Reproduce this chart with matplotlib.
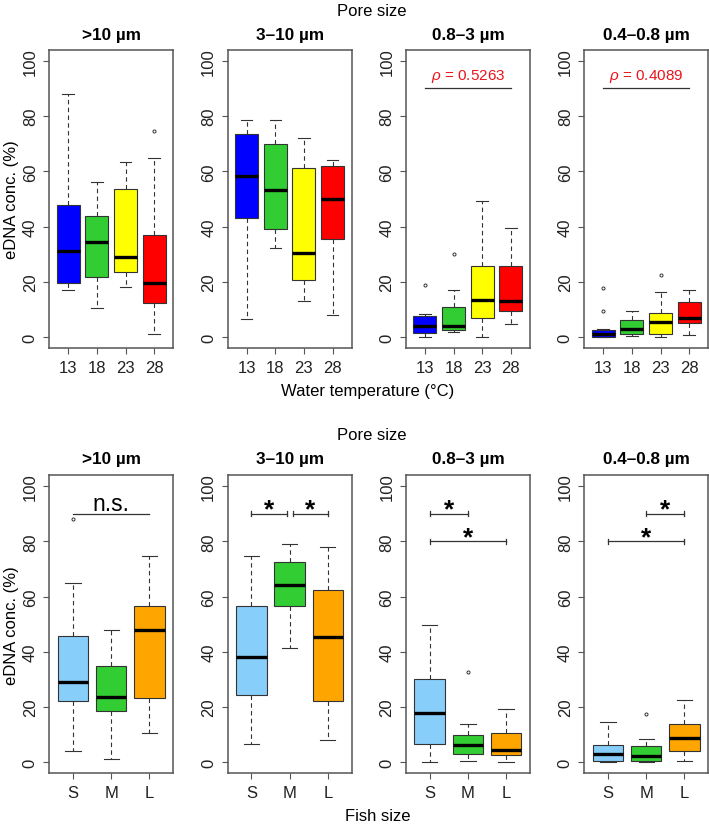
import numpy as np
import matplotlib.pyplot as plt

plt.rcParams['font.family'] = ['Liberation Sans', 'DejaVu Sans']
plt.rcParams['mathtext.fontset'] = 'custom'
plt.rcParams['mathtext.it'] = 'Liberation Sans:italic'
plt.rcParams['mathtext.rm'] = 'Liberation Sans'

pore_sizes = [">10 µm", "3–10 µm", "0.8–3 µm", "0.4–0.8 µm"]

# top row: water temperature
temps = ["13", "18", "23", "28"]
temp_colors = ["#0000FF", "#32CD32", "#FFFF00", "#FF0000"]
# each box: whislo, q1, med, q3, whishi
temp_boxes = [
    [[17.1, 19.6, 31.1, 47.8, 88.0], [10.6, 21.9, 34.6, 43.9, 56.0],
     [18.3, 23.5, 29.1, 53.6, 63.5], [1.3, 12.4, 19.5, 37.0, 64.7]],
    [[6.6, 43.2, 58.2, 73.6, 78.7], [32.3, 39.2, 53.1, 69.8, 78.7],
     [13.2, 20.7, 30.5, 61.2, 72.1], [8.2, 35.4, 50.1, 61.9, 64.1]],
    [[0.0, 1.6, 4.2, 7.6, 8.4], [1.9, 2.6, 4.0, 10.8, 17.1],
     [0.0, 6.9, 13.6, 25.7, 49.4], [4.8, 9.4, 13.0, 25.9, 39.4]],
    [[0.0, 0.0, 1.2, 2.7, 2.9], [0.4, 1.2, 3.0, 6.4, 9.5],
     [0.0, 1.1, 5.6, 8.8, 16.3], [0.8, 5.1, 7.1, 12.9, 17.1]],
]
temp_fliers = [
    [[], [], [], [74.5]],
    [[], [], [], []],
    [[18.9], [30.1], [], []],
    [[17.7, 9.6], [], [22.6], []],
]
rho_labels = [None, None, "0.5263", "0.4089"]

# bottom row: fish size
fish = ["S", "M", "L"]
fish_colors = ["#87CEFA", "#32CD32", "#FFA500"]
fish_boxes = [
    [[4.1, 22.2, 29.1, 45.6, 64.9], [1.2, 18.5, 23.7, 34.9, 48.0],
     [10.5, 23.3, 47.8, 56.6, 74.5]],
    [[6.5, 24.5, 38.1, 56.6, 74.7], [41.4, 56.4, 64.0, 72.4, 78.9],
     [8.0, 22.0, 45.5, 62.4, 77.9]],
    [[0.0, 6.5, 18.0, 30.3, 49.6], [0.3, 2.9, 6.2, 10.0, 13.9],
     [0.0, 2.7, 4.6, 10.5, 19.3]],
    [[0.0, 0.6, 2.9, 6.3, 14.5], [0.0, 0.5, 2.2, 5.8, 8.3],
     [0.3, 4.1, 8.8, 13.9, 22.6]],
]
fish_fliers = [
    [[88.2], [], []],
    [[], [], []],
    [[], [32.5], []],
    [[], [17.3], []],
]
# significance brackets: (from, to, height, label)
fish_sig = [
    [(1, 3, 90, "n.s.")],
    [(1, 1.92, 90, "*"), (2.08, 3, 90, "*")],
    [(1, 2, 90, "*"), (1, 3, 80, "*")],
    [(2, 3, 90, "*"), (1, 3, 80, "*")],
]

W, H = 709, 828
fig = plt.figure(figsize=(W / 100, H / 100), dpi=100)

lefts = [49.3, 227.7, 406.0, 584.3]
pw = 123.8
frame = "#555555"


def make_stats(boxes, fliers):
    out = []
    for b, f in zip(boxes, fliers):
        out.append(dict(whislo=b[0], q1=b[1], med=b[2], q3=b[3], whishi=b[4], fliers=f))
    return out


def draw_panel(ax, stats, colors, labels):
    n = len(stats)
    pos = np.arange(1, n + 1)
    res = ax.bxp(stats, positions=pos, widths=0.8, patch_artist=True,
                 boxprops=dict(edgecolor="#333333", linewidth=0.8),
                 whiskerprops=dict(color="#333333", linewidth=0.8, linestyle=(0, (4, 3))),
                 capprops=dict(color="#333333", linewidth=0.8),
                 medianprops=dict(color="black", linewidth=2.4),
                 flierprops=dict(marker="o", markersize=2.2, markerfacecolor="none",
                                 markeredgecolor="#333333", markeredgewidth=0.7))
    for patch, c in zip(res["boxes"], colors):
        patch.set_facecolor(c)
    ext = 0.04 * n
    ax.set_xlim(0.5 - ext, n + 0.5 + ext)
    ax.set_ylim(-4, 104)
    ax.set_xticks(pos)
    ax.set_xticklabels(labels)
    ax.set_yticks([0, 20, 40, 60, 80, 100])
    ax.set_yticklabels(["0", "20", "40", "60", "80", "100"], rotation=90, va="center")
    for s in ax.spines.values():
        s.set_color(frame)
        s.set_linewidth(1.1)
    ax.tick_params(axis="both", colors=frame, labelcolor="#222222", labelsize=12,
                   length=4.3, width=0.8)
    ax.tick_params(axis="x", pad=4.3)
    ax.tick_params(axis="y", pad=4.0)


rows = [(50.7, 349.3), (476.0, 774.3)]

# top row
for i in range(4):
    top, bot = rows[0]
    ax = fig.add_axes([lefts[i] / W, 1 - bot / H, pw / W, (bot - top) / H])
    draw_panel(ax, make_stats(temp_boxes[i], temp_fliers[i]), temp_colors, temps)
    ax.text(0.5, 1 + 15.7 / (bot - top), pore_sizes[i], transform=ax.transAxes,
            ha="center", va="center", fontsize=12.3, fontweight="bold")
    if i == 0:
        ax.set_ylabel("eDNA conc. (%)", fontsize=12, labelpad=3)
    if rho_labels[i] is not None:
        ax.plot([1, 4], [90, 90], color="#333333", linewidth=0.9)
        ax.text(2.5, 94.5, r"$\rho$ = " + rho_labels[i], color="#E8141C",
                ha="center", va="center", fontsize=11)

# bottom row
for i in range(4):
    top, bot = rows[1]
    ax = fig.add_axes([lefts[i] / W, 1 - bot / H, pw / W, (bot - top) / H])
    draw_panel(ax, make_stats(fish_boxes[i], fish_fliers[i]), fish_colors, fish)
    ax.text(0.5, 1 + 16.0 / (bot - top), pore_sizes[i], transform=ax.transAxes,
            ha="center", va="center", fontsize=12.3, fontweight="bold")
    if i == 0:
        ax.set_ylabel("eDNA conc. (%)", fontsize=12, labelpad=3)
    for x0, x1, y, lab in fish_sig[i]:
        if lab == "n.s.":
            ax.plot([x0, x1], [y, y], color="#333333", linewidth=0.9)
            ax.text((x0 + x1) / 2, y + 3.6, lab, ha="center", va="center", fontsize=16.5)
        else:
            ax.plot([x0, x1], [y, y], color="#333333", linewidth=0.9)
            ax.plot([x0, x0], [y - 0.9, y + 0.9], color="#333333", linewidth=0.9)
            ax.plot([x1, x1], [y - 0.9, y + 0.9], color="#333333", linewidth=0.9)
            ax.text((x0 + x1) / 2, y + 1.5, lab, ha="center", va="center",
                    fontsize=19, fontweight="bold")

fig.text(372 / W, 1 - 11.7 / H, "Pore size", ha="center", va="center", fontsize=12)
fig.text(368 / W, 1 - 391.7 / H, "Water temperature (°C)", ha="center", va="center", fontsize=12)
fig.text(372 / W, 1 - 435.7 / H, "Pore size", ha="center", va="center", fontsize=12)
fig.text(378 / W, 1 - 816.7 / H, "Fish size", ha="center", va="center", fontsize=12)

fig.savefig("out.png", dpi=100, facecolor="white")
